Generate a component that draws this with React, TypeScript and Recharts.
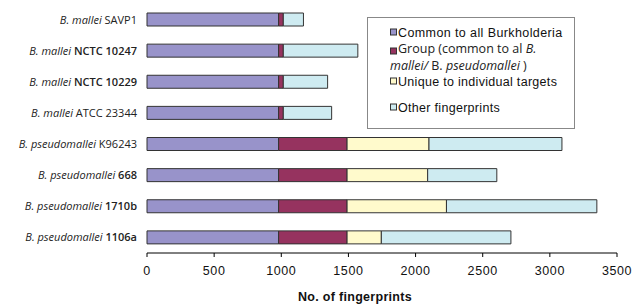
import React from 'react';
import { BarChart, Bar, XAxis, YAxis, Legend } from 'recharts';

const species = ['B. mallei', 'B. mallei', 'B. mallei', 'B. mallei', 'B. pseudomallei', 'B. pseudomallei', 'B. pseudomallei', 'B. pseudomallei'];
const strains = ['SAVP1', 'NCTC 10247', 'NCTC 10229', 'ATCC 23344', 'K96243', '668', '1710b', '1106a'];
const commonAll = [980, 980, 980, 980, 980, 980, 980, 980];
const groupCommon = [35, 35, 35, 35, 510, 510, 510, 510];
const uniqueTargets = [0, 0, 0, 0, 610, 600, 740, 255];
const otherPrints = [150, 555, 330, 360, 990, 515, 1120, 965];
const xTicks = [0, 500, 1000, 1500, 2000, 2500, 3000, 3500];
const boundTicks = [0, 1, 2, 3, 4, 5, 6, 7, 8];

const data = strains.map((s, i) => ({
  name: `${species[i]} ${s}`,
  species: species[i],
  strain: s,
  common: commonAll[i],
  group: groupCommon[i],
  unique: uniqueTargets[i],
  other: otherPrints[i],
}));

const COLORS = {
  common: '#9893CA',
  group: '#96335F',
  unique: '#FFFACC',
  other: '#CEEBF1',
};

const boldStrains = new Set(['NCTC 10247', 'NCTC 10229', '668', '1710b', '1106a']);

const YTick = (props: any) => {
  const { x, y, payload } = props;
  const d = data.find((r) => r.name === payload.value);
  if (!d) return null;
  return (
    <text x={x} y={y} dy={4} textAnchor="end" fontFamily="'Open Sans', sans-serif" fontSize={11} fill="#222">
      <tspan fontStyle="italic">{d.species}</tspan>
      <tspan fontWeight={boldStrains.has(d.strain) ? 600 : 400}>{' ' + d.strain}</tspan>
    </text>
  );
};

const LegendBox = () => {
  const sq = (y: number, color: string) => (
    <rect x={23.5} y={y - 3} width={6} height={6} fill={color} stroke="#333" strokeWidth={1} />
  );
  const arial = "'Liberation Sans', Arial, sans-serif";
  const calibri = "'Open Sans', sans-serif";
  return (
    <svg width={209} height={113} style={{ display: 'block' }}>
      <rect x={0.5} y={0.5} width={207} height={111} fill="#fff" stroke="#888" strokeWidth={1} />
      {sq(15, COLORS.common)}
      <text x={31} y={19.5} fontFamily={arial} fontSize={12.5} letterSpacing={0.4} fill="#111">Common to all  Burkholderia</text>
      {sq(34, COLORS.group)}
      <text x={31} y={36} fontFamily={calibri} fontSize={12.5} fill="#222">
        Group (common to al <tspan fontStyle="italic">B.</tspan>
      </text>
      <text x={23} y={52.5} fontFamily={calibri} fontSize={12.5} fill="#222">
        <tspan fontStyle="italic">mallei/</tspan> B. <tspan fontStyle="italic">pseudomallei</tspan> )
      </text>
      {sq(64, COLORS.unique)}
      <text x={31} y={68.5} fontFamily={arial} fontSize={12.5} letterSpacing={0.3} fill="#111">Unique to individual targets</text>
      {sq(90, COLORS.other)}
      <text x={31} y={94.5} fontFamily={arial} fontSize={12.5} letterSpacing={0.3} fill="#111">Other fingerprints</text>
    </svg>
  );
};

export default function App() {
  return (
    <div style={{ position: 'absolute', left: 0, top: 0, width: 634, height: 306, background: '#fff' }}>
      <BarChart
        width={634}
        height={306}
        data={data}
        layout="vertical"
        margin={{ top: 4, right: 17, bottom: 0, left: 0 }}
        barCategoryGap={0}
      >
        <XAxis
          type="number"
          domain={[0, 3500]}
          ticks={xTicks}
          interval={0}
          height={53}
          tickSize={4}
          tickMargin={9}
          axisLine={{ stroke: '#000' }}
          tickLine={{ stroke: '#000' }}
          tick={{ fontFamily: "'Liberation Sans', Arial, sans-serif", fontSize: 12.5, letterSpacing: 0.6, fill: '#111' }}
          label={{
            value: 'No. of fingerprints',
            position: 'insideBottom',
            offset: 5,
            dx: -27,
            style: { fontFamily: "'Liberation Sans', Arial, sans-serif", fontSize: 12.5, fontWeight: 700, letterSpacing: 0.3, fill: '#111' },
          }}
        />
        <XAxis xAxisId="top" orientation="top" type="number" domain={[0, 3500]} height={0} tick={false} tickLine={false} axisLine={{ stroke: '#000' }} />
        <YAxis
          yAxisId="bounds"
          type="number"
          domain={[0, 8]}
          ticks={boundTicks}
          interval={0}
          width={0}
          tick={false}
          tickSize={5}
          axisLine={{ stroke: '#000' }}
          tickLine={{ stroke: '#000' }}
        />
        <YAxis
          yAxisId="cat"
          type="category"
          dataKey="name"
          width={147}
          axisLine={false}
          tickLine={false}
          tickSize={0}
          tickMargin={10}
          interval={0}
          tick={<YTick />}
        />
        <YAxis yAxisId="right" orientation="right" type="number" domain={[0, 1]} width={0} tick={false} tickLine={false} axisLine={{ stroke: '#999' }} />
        <Legend
          layout="vertical"
          align="center"
          verticalAlign="middle"
          content={() => <LegendBox />}
          wrapperStyle={{ left: 367, top: 17, width: 209, height: 113 }}
        />
        <Bar yAxisId="cat" dataKey="common" stackId="s" fill={COLORS.common} stroke="#333" strokeWidth={1} barSize={13} isAnimationActive={false} />
        <Bar yAxisId="cat" dataKey="group" stackId="s" fill={COLORS.group} stroke="#333" strokeWidth={1} barSize={13} isAnimationActive={false} />
        <Bar yAxisId="cat" dataKey="unique" stackId="s" fill={COLORS.unique} stroke="#333" strokeWidth={1} barSize={13} isAnimationActive={false} />
        <Bar yAxisId="cat" dataKey="other" stackId="s" fill={COLORS.other} stroke="#333" strokeWidth={1} barSize={13} isAnimationActive={false} />
      </BarChart>
    </div>
  );
}
